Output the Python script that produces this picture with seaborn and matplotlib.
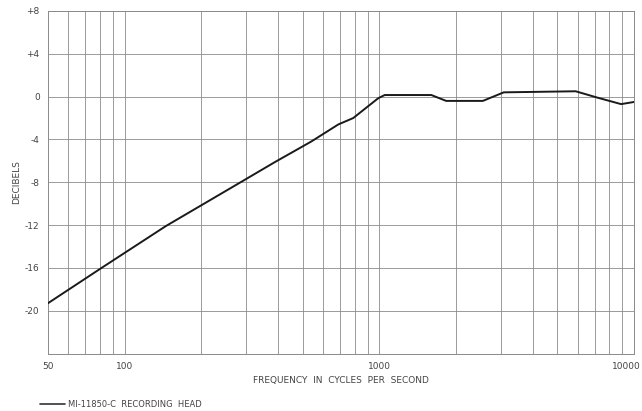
import matplotlib
matplotlib.use("Agg")
import matplotlib.pyplot as plt
import matplotlib.transforms as mtransforms
import seaborn as sns
import pandas as pd
import numpy as np

freq = [50, 80, 145, 290, 390, 540, 690, 790, 990, 1050, 1600, 1830, 2550, 3080, 5900, 7200, 8900, 10000]
db = [-19.3, -16.1, -12.1, -7.9, -6.1, -4.2, -2.6, -2.0, -0.15, 0.15, 0.15, -0.4, -0.4, 0.4, 0.5, -0.1, -0.7, -0.5]
series_name = "MI-11850-C  RECORDING  HEAD"
y_ticks = [8, 4, 0, -4, -8, -12, -16, -20]
y_tick_labels = ["+8", "+4", "0", "-4", "-8", "-12", "-16", "-20"]
x_ticks = [50, 100, 1000, 10000]
x_tick_labels = ["50", "100", "1000", "10000"]

sns.set_theme(style="white")
plt.rcParams['font.family'] = ['DejaVu Sans']

df = pd.DataFrame({"freq": freq, "db": db, "series": series_name})

fig = plt.figure(figsize=(6.42, 4.11), dpi=100)
ax = fig.add_axes([48/642, 1-353.5/411, (634-48)/642, (353.5-11)/411])

ax.set_xscale("log")
ax.set_xlim(50, 10000)
ax.set_ylim(-24, 8)

grid_color = "#8a8a8a"
vlines = list(range(60, 100, 10)) + list(range(100, 1000, 100)) + list(range(1000, 10001, 1000))
for v in vlines:
    ax.axvline(v, color=grid_color, lw=0.6, zorder=1)
for h in range(-20, 9, 4):
    ax.axhline(h, color=grid_color, lw=0.6, zorder=1)

sns.lineplot(data=df, x="freq", y="db", color="#1a1a1a", lw=1.4, ax=ax, legend=False, zorder=3)

ax.set_xticks(x_ticks)
ax.set_xticklabels(x_tick_labels)
ax.xaxis.set_minor_locator(matplotlib.ticker.NullLocator())
ax.set_yticks(y_ticks)
ax.set_yticklabels(y_tick_labels)
ax.tick_params(axis="both", length=0, labelsize=6.5, colors="#444444", pad=6)

# keep the last x label inside the figure
last = ax.get_xticklabels()[-1]
last.set_horizontalalignment("right")
last.set_transform(last.get_transform() + mtransforms.ScaledTranslation(7/100, 0, fig.dpi_scale_trans))

for s in ax.spines.values():
    s.set_color(grid_color)
    s.set_linewidth(0.7)

ax.set_xlabel("FREQUENCY  IN  CYCLES  PER  SECOND", fontsize=6.5, color="#444444", labelpad=4)
ax.set_ylabel("DECIBELS", fontsize=6.5, color="#444444", labelpad=3)

# legend at bottom left
fig.lines.append(matplotlib.lines.Line2D([40/642, 65/642], [1-404/411, 1-404/411], color="#333333", lw=1.2, transform=fig.transFigure))
fig.text(68/642, 1-404/411, series_name, fontsize=6, color="#444444", va="center", ha="left")

fig.savefig("out.png", dpi=100)
